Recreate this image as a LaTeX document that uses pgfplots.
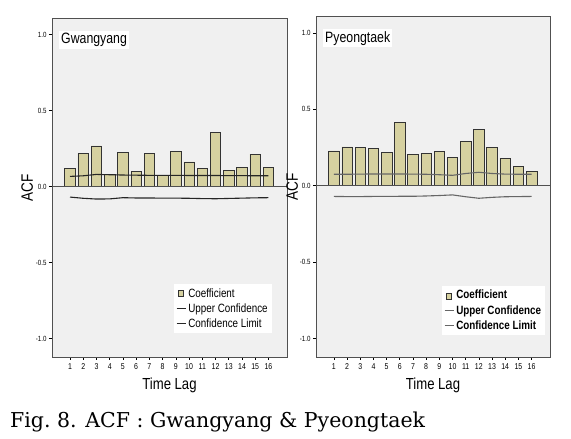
\documentclass[border=0pt]{standalone}
\usepackage{fontspec}
\setmainfont{Liberation Sans}[FakeStretch=0.82]
\newfontfamily\capfont{DejaVu Serif}
\usepackage{pgfplots}
\pgfplotsset{compat=1.18}
\definecolor{bggray}{RGB}{240,240,240}
\definecolor{barfill}{RGB}{214,209,160}
\definecolor{boxline}{RGB}{80,80,80}

\pgfplotsset{acf/.style={
  scale only axis,
  xmin=-0.36, xmax=17.4, ymin=-1.12, ymax=1.11,
  axis background/.style={fill=bggray},
  xtick={1,...,16},
  ytick={-1,-0.5,0,0.5,1},
  /pgf/number format/assume math mode=true,
  yticklabel style={font=\fontsize{7.5}{8}\selectfont, xshift=1pt,
    /pgf/number format/.cd, fixed, fixed zerofill, precision=1, assume math mode=true},
  xticklabel style={font=\fontsize{8.5}{9}\selectfont},
  xtick pos=lower, ytick pos=left,
  tick align=outside, major tick length=3pt,
  tick style={black, line width=0.6pt},
  axis line style={draw=boxline, line width=0.9pt},
  xlabel={Time Lag}, ylabel={ACF},
  xlabel style={font=\fontsize{16}{17}\selectfont, yshift=-1pt},
  ylabel style={font=\fontsize{16.5}{17}\selectfont, yshift=-4pt},
  legend cell align=left,
  legend style={draw=none, fill=white, font=\fontsize{12}{13}\selectfont,
    inner sep=2pt, row sep=1pt, anchor=north west},
  legend image code/.code={\draw[#1] (0cm,0cm) -- (0.32cm,0cm);},
}}

\pgfplotstableread{
lag acf
1 0.118
2 0.217
3 0.268
4 0.079
5 0.226
6 0.099
7 0.217
8 0.075
9 0.232
10 0.164
11 0.121
12 0.355
13 0.107
14 0.129
15 0.215
16 0.129
}\gwangbars

\pgfplotstableread{
lag up lo
1 0.068 -0.068
2 0.072 -0.076
3 0.081 -0.081
4 0.079 -0.080
5 0.077 -0.072
6 0.076 -0.074
7 0.075 -0.074
8 0.075 -0.075
9 0.075 -0.075
10 0.074 -0.076
11 0.074 -0.078
12 0.074 -0.079
13 0.073 -0.077
14 0.073 -0.075
15 0.072 -0.073
16 0.072 -0.072
}\gwangconf

\pgfplotstableread{
lag acf
1 0.228
2 0.254
3 0.252
4 0.246
5 0.220
6 0.412
7 0.207
8 0.213
9 0.222
10 0.183
11 0.289
12 0.366
13 0.250
14 0.181
15 0.129
16 0.093
}\pyeongbars

\pgfplotstableread{
lag up lo
1 0.075 -0.070
2 0.075 -0.071
3 0.076 -0.071
4 0.077 -0.070
5 0.077 -0.070
6 0.077 -0.069
7 0.076 -0.069
8 0.075 -0.067
9 0.072 -0.064
10 0.068 -0.060
11 0.080 -0.072
12 0.088 -0.082
13 0.080 -0.076
14 0.076 -0.072
15 0.075 -0.071
16 0.075 -0.070
}\pyeongconf

\begin{document}
\begin{tikzpicture}[x=1pt,y=1pt]
\useasboundingbox (0,0) rectangle (571,439);

% ---------- Left: Gwangyang ----------
\begin{axis}[acf, at={(52pt,82pt)}, anchor=south west,
  width=235pt, height=339pt,
  legend style={at={(rel axis cs:0.519,0.215)}}]
\addplot[ybar, bar width=10.5pt, fill=barfill, draw=black!80, line width=0.6pt,
  legend image code/.code={\draw[fill=barfill, draw=black!80, line width=0.6pt] (0.06cm,-0.11cm) rectangle (0.24cm,0.11cm);}]
  table[x=lag,y=acf]{\gwangbars};
\addlegendentry{Coefficient}
\addplot[black!85, line width=1.1pt, no marks] table[x=lag,y=up]{\gwangconf};
\addlegendentry{Upper Confidence}
\addplot[black!85, line width=1.1pt, no marks] table[x=lag,y=lo]{\gwangconf};
\addlegendentry{Confidence Limit}
\addplot[boxline, line width=0.9pt, no marks, forget plot] coordinates {(-0.36,0) (17.4,0)};
\node[fill=white, anchor=north west, inner sep=2pt, font=\fontsize{15}{16}\selectfont]
  at (rel axis cs:0.03,0.962) {Gwangyang};
\end{axis}

% ---------- Right: Pyeongtaek ----------
\begin{axis}[acf, at={(316pt,82pt)}, anchor=south west,
  width=234pt, height=341pt,
  ylabel style={yshift=-1pt},
  legend style={at={(rel axis cs:0.538,0.208)}, font=\fontsize{12}{13}\selectfont\bfseries}]
\addplot[ybar, bar width=10.5pt, fill=barfill, draw=black!80, line width=0.6pt,
  legend image code/.code={\draw[fill=barfill, draw=black!80, line width=0.6pt] (0.06cm,-0.13cm) rectangle (0.24cm,0.09cm);}]
  table[x=lag,y=acf]{\pyeongbars};
\addlegendentry{Coefficient}
\addplot[black!60, line width=1.1pt, no marks] table[x=lag,y=up]{\pyeongconf};
\addlegendentry{Upper Confidence}
\addplot[black!60, line width=1.1pt, no marks] table[x=lag,y=lo]{\pyeongconf};
\addlegendentry{Confidence Limit}
\addplot[boxline, line width=0.9pt, no marks, forget plot] coordinates {(-0.36,0) (17.4,0)};
\node[fill=white, anchor=north west, inner sep=2pt, font=\fontsize{15}{16}\selectfont]
  at (rel axis cs:0.03,0.962) {Pyeongtaek};
\end{axis}

\node[anchor=base west, inner sep=0pt, font=\capfont\fontsize{20.5}{21}\selectfont]
  at (10,11) {Fig.\ 8. ACF : Gwangyang \& Pyeongtaek};
\end{tikzpicture}
\end{document}
